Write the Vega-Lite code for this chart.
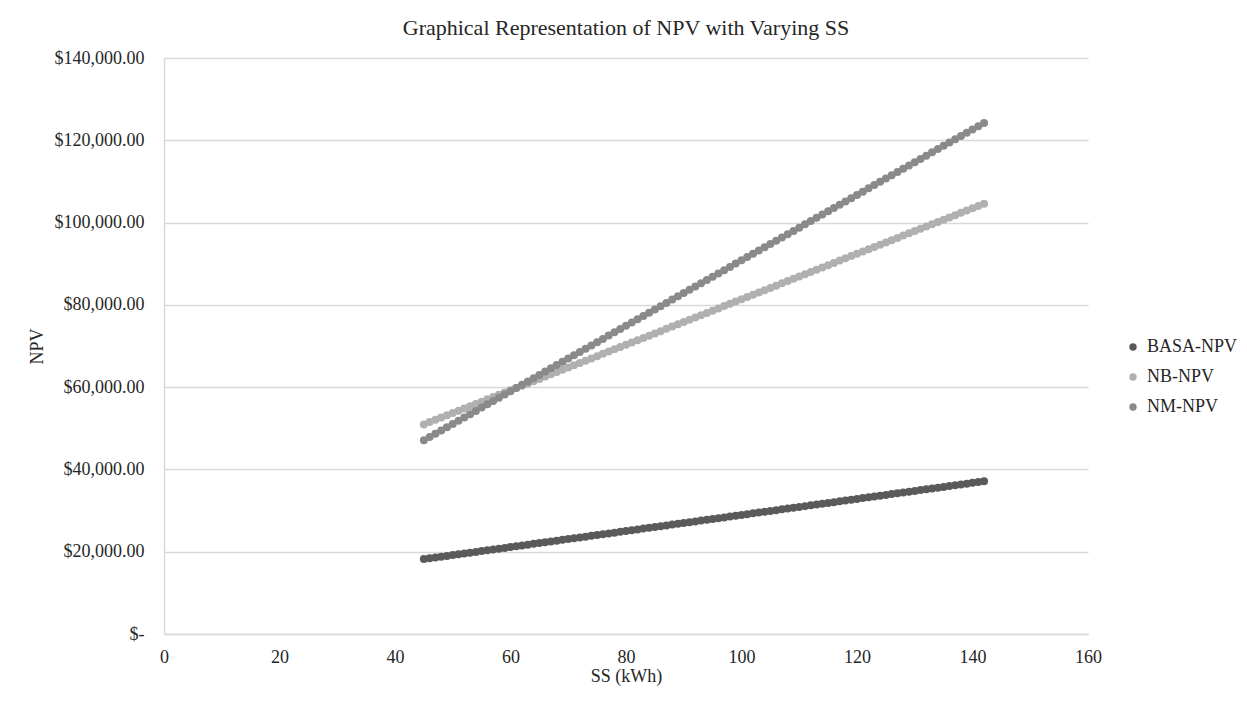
{
  "$schema": "https://vega.github.io/schema/vega-lite/v6.json",
  "autosize": {"type": "none"},
  "width": 924,
  "height": 576,
  "padding": {"left": 164, "top": 58, "right": 159, "bottom": 77},
  "background": "white",
  "title": {"text": "Graphical Representation of NPV with Varying SS", "font": "Liberation Serif", "fontSize": 22, "fontWeight": "normal", "color": "#262626", "anchor": "middle", "offset": 9},
  "config": {
    "view": {"stroke": null},
    "font": "Liberation Serif"
  },
  "data": {"values": [
    {"SS": 45, "BASA-NPV": 18200, "NB-NPV": 50950, "NM-NPV": 47070},
    {"SS": 46, "BASA-NPV": 18395, "NB-NPV": 51503, "NM-NPV": 47865},
    {"SS": 47, "BASA-NPV": 18590, "NB-NPV": 52056, "NM-NPV": 48661},
    {"SS": 48, "BASA-NPV": 18785, "NB-NPV": 52608, "NM-NPV": 49456},
    {"SS": 49, "BASA-NPV": 18980, "NB-NPV": 53161, "NM-NPV": 50252},
    {"SS": 50, "BASA-NPV": 19176, "NB-NPV": 53714, "NM-NPV": 51047},
    {"SS": 51, "BASA-NPV": 19371, "NB-NPV": 54267, "NM-NPV": 51842},
    {"SS": 52, "BASA-NPV": 19566, "NB-NPV": 54820, "NM-NPV": 52638},
    {"SS": 53, "BASA-NPV": 19761, "NB-NPV": 55372, "NM-NPV": 53433},
    {"SS": 54, "BASA-NPV": 19956, "NB-NPV": 55925, "NM-NPV": 54229},
    {"SS": 55, "BASA-NPV": 20151, "NB-NPV": 56478, "NM-NPV": 55024},
    {"SS": 56, "BASA-NPV": 20346, "NB-NPV": 57031, "NM-NPV": 55819},
    {"SS": 57, "BASA-NPV": 20541, "NB-NPV": 57584, "NM-NPV": 56615},
    {"SS": 58, "BASA-NPV": 20736, "NB-NPV": 58136, "NM-NPV": 57410},
    {"SS": 59, "BASA-NPV": 20931, "NB-NPV": 58689, "NM-NPV": 58206},
    {"SS": 60, "BASA-NPV": 21127, "NB-NPV": 59242, "NM-NPV": 59001},
    {"SS": 61, "BASA-NPV": 21322, "NB-NPV": 59795, "NM-NPV": 59796},
    {"SS": 62, "BASA-NPV": 21517, "NB-NPV": 60348, "NM-NPV": 60592},
    {"SS": 63, "BASA-NPV": 21712, "NB-NPV": 60900, "NM-NPV": 61387},
    {"SS": 64, "BASA-NPV": 21907, "NB-NPV": 61453, "NM-NPV": 62183},
    {"SS": 65, "BASA-NPV": 22102, "NB-NPV": 62006, "NM-NPV": 62978},
    {"SS": 66, "BASA-NPV": 22297, "NB-NPV": 62559, "NM-NPV": 63773},
    {"SS": 67, "BASA-NPV": 22492, "NB-NPV": 63112, "NM-NPV": 64569},
    {"SS": 68, "BASA-NPV": 22687, "NB-NPV": 63664, "NM-NPV": 65364},
    {"SS": 69, "BASA-NPV": 22882, "NB-NPV": 64217, "NM-NPV": 66160},
    {"SS": 70, "BASA-NPV": 23078, "NB-NPV": 64770, "NM-NPV": 66955},
    {"SS": 71, "BASA-NPV": 23273, "NB-NPV": 65323, "NM-NPV": 67750},
    {"SS": 72, "BASA-NPV": 23468, "NB-NPV": 65876, "NM-NPV": 68546},
    {"SS": 73, "BASA-NPV": 23663, "NB-NPV": 66428, "NM-NPV": 69341},
    {"SS": 74, "BASA-NPV": 23858, "NB-NPV": 66981, "NM-NPV": 70137},
    {"SS": 75, "BASA-NPV": 24053, "NB-NPV": 67534, "NM-NPV": 70932},
    {"SS": 76, "BASA-NPV": 24248, "NB-NPV": 68087, "NM-NPV": 71727},
    {"SS": 77, "BASA-NPV": 24443, "NB-NPV": 68640, "NM-NPV": 72523},
    {"SS": 78, "BASA-NPV": 24638, "NB-NPV": 69192, "NM-NPV": 73318},
    {"SS": 79, "BASA-NPV": 24833, "NB-NPV": 69745, "NM-NPV": 74114},
    {"SS": 80, "BASA-NPV": 25029, "NB-NPV": 70298, "NM-NPV": 74909},
    {"SS": 81, "BASA-NPV": 25224, "NB-NPV": 70851, "NM-NPV": 75704},
    {"SS": 82, "BASA-NPV": 25419, "NB-NPV": 71404, "NM-NPV": 76500},
    {"SS": 83, "BASA-NPV": 25614, "NB-NPV": 71956, "NM-NPV": 77295},
    {"SS": 84, "BASA-NPV": 25809, "NB-NPV": 72509, "NM-NPV": 78091},
    {"SS": 85, "BASA-NPV": 26004, "NB-NPV": 73062, "NM-NPV": 78886},
    {"SS": 86, "BASA-NPV": 26199, "NB-NPV": 73615, "NM-NPV": 79681},
    {"SS": 87, "BASA-NPV": 26394, "NB-NPV": 74168, "NM-NPV": 80477},
    {"SS": 88, "BASA-NPV": 26589, "NB-NPV": 74720, "NM-NPV": 81272},
    {"SS": 89, "BASA-NPV": 26784, "NB-NPV": 75273, "NM-NPV": 82068},
    {"SS": 90, "BASA-NPV": 26980, "NB-NPV": 75826, "NM-NPV": 82863},
    {"SS": 91, "BASA-NPV": 27175, "NB-NPV": 76379, "NM-NPV": 83658},
    {"SS": 92, "BASA-NPV": 27370, "NB-NPV": 76932, "NM-NPV": 84454},
    {"SS": 93, "BASA-NPV": 27565, "NB-NPV": 77484, "NM-NPV": 85249},
    {"SS": 94, "BASA-NPV": 27760, "NB-NPV": 78037, "NM-NPV": 86045},
    {"SS": 95, "BASA-NPV": 27955, "NB-NPV": 78590, "NM-NPV": 86840},
    {"SS": 96, "BASA-NPV": 28150, "NB-NPV": 79143, "NM-NPV": 87635},
    {"SS": 97, "BASA-NPV": 28345, "NB-NPV": 79696, "NM-NPV": 88431},
    {"SS": 98, "BASA-NPV": 28540, "NB-NPV": 80248, "NM-NPV": 89226},
    {"SS": 99, "BASA-NPV": 28735, "NB-NPV": 80801, "NM-NPV": 90022},
    {"SS": 100, "BASA-NPV": 28931, "NB-NPV": 81354, "NM-NPV": 90817},
    {"SS": 101, "BASA-NPV": 29126, "NB-NPV": 81907, "NM-NPV": 91612},
    {"SS": 102, "BASA-NPV": 29321, "NB-NPV": 82460, "NM-NPV": 92408},
    {"SS": 103, "BASA-NPV": 29516, "NB-NPV": 83012, "NM-NPV": 93203},
    {"SS": 104, "BASA-NPV": 29711, "NB-NPV": 83565, "NM-NPV": 93999},
    {"SS": 105, "BASA-NPV": 29906, "NB-NPV": 84118, "NM-NPV": 94794},
    {"SS": 106, "BASA-NPV": 30101, "NB-NPV": 84671, "NM-NPV": 95589},
    {"SS": 107, "BASA-NPV": 30296, "NB-NPV": 85224, "NM-NPV": 96385},
    {"SS": 108, "BASA-NPV": 30491, "NB-NPV": 85776, "NM-NPV": 97180},
    {"SS": 109, "BASA-NPV": 30686, "NB-NPV": 86329, "NM-NPV": 97976},
    {"SS": 110, "BASA-NPV": 30882, "NB-NPV": 86882, "NM-NPV": 98771},
    {"SS": 111, "BASA-NPV": 31077, "NB-NPV": 87435, "NM-NPV": 99566},
    {"SS": 112, "BASA-NPV": 31272, "NB-NPV": 87988, "NM-NPV": 100362},
    {"SS": 113, "BASA-NPV": 31467, "NB-NPV": 88540, "NM-NPV": 101157},
    {"SS": 114, "BASA-NPV": 31662, "NB-NPV": 89093, "NM-NPV": 101953},
    {"SS": 115, "BASA-NPV": 31857, "NB-NPV": 89646, "NM-NPV": 102748},
    {"SS": 116, "BASA-NPV": 32052, "NB-NPV": 90199, "NM-NPV": 103543},
    {"SS": 117, "BASA-NPV": 32247, "NB-NPV": 90752, "NM-NPV": 104339},
    {"SS": 118, "BASA-NPV": 32442, "NB-NPV": 91304, "NM-NPV": 105134},
    {"SS": 119, "BASA-NPV": 32637, "NB-NPV": 91857, "NM-NPV": 105930},
    {"SS": 120, "BASA-NPV": 32833, "NB-NPV": 92410, "NM-NPV": 106725},
    {"SS": 121, "BASA-NPV": 33028, "NB-NPV": 92963, "NM-NPV": 107520},
    {"SS": 122, "BASA-NPV": 33223, "NB-NPV": 93516, "NM-NPV": 108316},
    {"SS": 123, "BASA-NPV": 33418, "NB-NPV": 94068, "NM-NPV": 109111},
    {"SS": 124, "BASA-NPV": 33613, "NB-NPV": 94621, "NM-NPV": 109907},
    {"SS": 125, "BASA-NPV": 33808, "NB-NPV": 95174, "NM-NPV": 110702},
    {"SS": 126, "BASA-NPV": 34003, "NB-NPV": 95727, "NM-NPV": 111497},
    {"SS": 127, "BASA-NPV": 34198, "NB-NPV": 96280, "NM-NPV": 112293},
    {"SS": 128, "BASA-NPV": 34393, "NB-NPV": 96832, "NM-NPV": 113088},
    {"SS": 129, "BASA-NPV": 34588, "NB-NPV": 97385, "NM-NPV": 113884},
    {"SS": 130, "BASA-NPV": 34784, "NB-NPV": 97938, "NM-NPV": 114679},
    {"SS": 131, "BASA-NPV": 34979, "NB-NPV": 98491, "NM-NPV": 115474},
    {"SS": 132, "BASA-NPV": 35174, "NB-NPV": 99044, "NM-NPV": 116270},
    {"SS": 133, "BASA-NPV": 35369, "NB-NPV": 99596, "NM-NPV": 117065},
    {"SS": 134, "BASA-NPV": 35564, "NB-NPV": 100149, "NM-NPV": 117861},
    {"SS": 135, "BASA-NPV": 35759, "NB-NPV": 100702, "NM-NPV": 118656},
    {"SS": 136, "BASA-NPV": 35954, "NB-NPV": 101255, "NM-NPV": 119451},
    {"SS": 137, "BASA-NPV": 36149, "NB-NPV": 101808, "NM-NPV": 120247},
    {"SS": 138, "BASA-NPV": 36344, "NB-NPV": 102360, "NM-NPV": 121042},
    {"SS": 139, "BASA-NPV": 36539, "NB-NPV": 102913, "NM-NPV": 121838},
    {"SS": 140, "BASA-NPV": 36735, "NB-NPV": 103466, "NM-NPV": 122633},
    {"SS": 141, "BASA-NPV": 36930, "NB-NPV": 104019, "NM-NPV": 123428},
    {"SS": 142, "BASA-NPV": 37125, "NB-NPV": 104572, "NM-NPV": 124224}
  ]},
  "transform": [
    {"fold": ["BASA-NPV", "NB-NPV", "NM-NPV"], "as": ["series", "NPV"]}
  ],
  "mark": {"type": "circle", "size": 64, "opacity": 1},
  "encoding": {
    "x": {
      "field": "SS", "type": "quantitative",
      "scale": {"domain": [0, 160], "nice": false, "zero": true},
      "axis": {
        "title": "SS (kWh)", "values": [0, 20, 40, 60, 80, 100, 120, 140, 160],
        "grid": false, "ticks": false, "domain": true, "domainColor": "#d9d9d9", "domainWidth": 1.5,
        "labelFlush": false, "labelOverlap": false,
        "labelFont": "Liberation Serif", "labelFontSize": 18, "labelColor": "#262626", "labelPadding": 14,
        "titleFont": "Liberation Serif", "titleFontSize": 18, "titleFontWeight": "normal", "titleColor": "#262626", "titlePadding": 1
      }
    },
    "y": {
      "field": "NPV", "type": "quantitative",
      "scale": {"domain": [0, 140000], "nice": false},
      "axis": {
        "title": "NPV", "values": [0, 20000, 40000, 60000, 80000, 100000, 120000, 140000],
        "labelExpr": "datum.value == 0 ? '$-' : format(datum.value, '$,.2f')",
        "grid": true, "gridColor": "#d9d9d9", "gridWidth": 1.3,
        "ticks": false, "domain": true, "domainColor": "#d9d9d9", "domainWidth": 1.5,
        "labelFlush": false, "labelOverlap": false,
        "labelFont": "Liberation Serif", "labelFontSize": 18, "labelColor": "#262626", "labelPadding": 20,
        "titleFont": "Liberation Serif", "titleFontSize": 18, "titleFontWeight": "normal", "titleColor": "#262626", "titlePadding": 8
      }
    },
    "color": {
      "field": "series", "type": "nominal",
      "scale": {"domain": ["BASA-NPV", "NB-NPV", "NM-NPV"], "range": ["#5a5a5a", "#b0b0b0", "#8a8a8a"]},
      "legend": {
        "title": null, "orient": "none", "legendX": 960, "legendY": 280,
        "labelFont": "Liberation Serif", "labelFontSize": 18, "labelColor": "#262626",
        "symbolType": "circle", "symbolSize": 55, "labelOffset": 5, "rowPadding": 12
      }
    },
    "order": {"field": "series", "sort": "ascending"}
  }
}
